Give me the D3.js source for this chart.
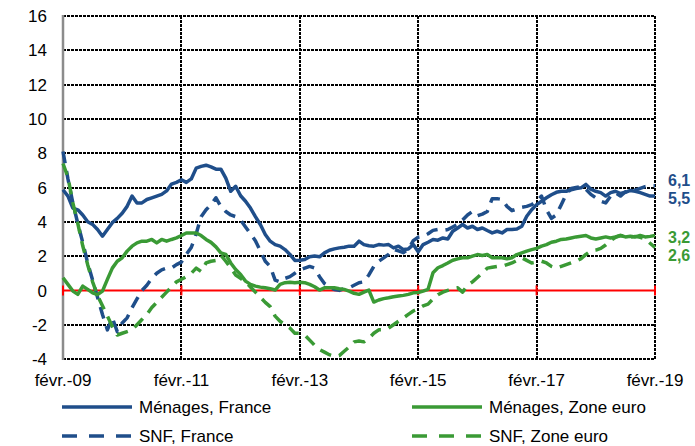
<!DOCTYPE html>
<html>
  <head>
    <meta charset="utf-8">
    <script src="https://d3js.org/d3.v7.min.js"></script>
    <style>
      body { margin: 0; background: #fff; }
      text { font-family: "Liberation Sans", Arial, sans-serif; fill: #000; }
      .grid { stroke: #000; stroke-width: 2; stroke-dasharray: 3,1; shape-rendering: crispEdges; }
    </style>
  </head>
  <body>
    <svg class="chart" width="695" height="446"></svg>
  </body>
  <script>
    // one value per month, févr. 2009 -> févr. 2019
    var xLabels = ["févr.-09", "févr.-11", "févr.-13", "févr.-15", "févr.-17", "févr.-19"];
    var yTicks = [-4, -2, 0, 2, 4, 6, 8, 10, 12, 14, 16];

    var menagesFrance = [
      5.87, 5.5, 4.8, 4.7, 4.4, 4.0, 3.85, 3.55, 3.16, 3.55, 3.95, 4.2, 4.5, 4.9, 5.5, 5.1, 5.1, 5.3, 5.4, 5.5, 5.6, 5.8, 6.2, 6.3, 6.45,
      6.3, 6.5, 7.13, 7.23, 7.3, 7.2, 7.07, 7.07, 6.55, 5.78, 6.07, 5.52, 5.2, 4.8, 4.3, 3.84, 3.26, 2.87, 2.67, 2.58, 2.38, 2.1, 1.75, 1.76,
      1.8, 1.96, 2.0, 1.96, 2.19, 2.34, 2.42, 2.48, 2.52, 2.58, 2.58, 2.87, 2.67, 2.6, 2.58, 2.67, 2.64, 2.67, 2.48, 2.58, 2.38, 2.42, 2.67, 2.25,
      2.67, 2.81, 2.97, 2.93, 3.06, 3.0, 3.45, 3.64, 3.84, 3.64, 3.74, 3.55, 3.64, 3.49, 3.35, 3.45, 3.35, 3.55, 3.55, 3.58, 3.74, 4.32, 4.7, 5.0,
      5.2, 5.4, 5.58, 5.72, 5.78, 5.78, 5.87, 5.94, 5.98, 6.18, 5.9, 5.78, 5.7, 5.5, 5.7, 5.78, 5.65, 5.72, 5.83, 5.78, 5.7, 5.6, 5.5, 5.5
    ];
    var snfFrance = [
      8.1, 6.5, 5.1, 3.9, 2.8, 1.6, 0.6, -0.4, -1.4, -2.3, -1.6, -2.4, -1.9, -1.6, -1.0, -0.5, 0.0, 0.3, 0.7, 1.0, 1.2, 1.3, 1.3, 1.5, 1.65,
      2.1, 2.5, 3.3, 4.3, 4.7, 5.0, 5.4, 4.9, 4.6, 4.4, 4.3, 4.1, 3.7, 3.3, 2.9, 2.3, 1.7, 1.4, 0.6, 0.5, 0.7, 0.8, 1.0, 1.2,
      1.3, 1.4, 1.3, 0.8, 0.4, 0.2, 0.05, 0.0, 0.1, 0.15, 0.3, 0.45, 0.5, 0.9, 1.4, 1.7, 1.9, 2.1, 2.4, 2.3, 2.2, 2.4, 2.9, 3.1,
      3.15, 3.3, 3.5, 3.55, 3.5, 3.55, 3.7, 3.85, 4.1, 4.4, 4.6, 4.35, 4.45, 4.6, 5.35, 5.35, 5.3, 4.9, 4.65, 4.75, 4.85, 4.9, 5.0, 5.2,
      5.5, 4.7, 4.2, 4.4, 5.0, 5.6, 5.95, 6.0, 6.05, 5.9, 5.6, 5.4, 5.2, 5.1, 5.5, 5.7, 5.5, 5.75, 5.8, 5.85, 5.95, 6.05, 6.1, 6.1
    ];
    var menagesZE = [
      0.74, 0.35, -0.04, -0.23, 0.25, 0.06, -0.14, -0.25, -0.04, 0.64, 1.3, 1.7, 1.9, 2.29, 2.58, 2.77, 2.87, 2.87, 2.97, 2.77, 2.97, 2.87, 2.97, 3.06, 3.2,
      3.35, 3.35, 3.35, 3.2, 2.97, 2.8, 2.54, 2.19, 2.1, 1.6, 1.22, 0.93, 0.54, 0.35, 0.25, 0.19, 0.15, 0.1, 0.02, 0.35, 0.45, 0.48, 0.45, 0.47,
      0.45, 0.35, 0.21, 0.02, 0.15, 0.15, 0.15, 0.1, 0.06, -0.04, -0.17, -0.23, -0.1, 0.02, -0.68, -0.56, -0.48, -0.43, -0.37, -0.33, -0.29, -0.23, -0.14, -0.12,
      -0.04, 0.06, 1.03, 1.32, 1.45, 1.6, 1.76, 1.84, 1.9, 1.9, 2.0, 2.09, 2.03, 2.09, 1.9, 1.9, 1.9, 1.84, 1.9, 2.09, 2.19, 2.29, 2.38, 2.45,
      2.58, 2.67, 2.81, 2.87, 2.97, 3.0, 3.06, 3.12, 3.16, 3.2, 3.06, 3.0, 3.06, 3.12, 3.06, 3.12, 3.2, 3.12, 3.16, 3.12, 3.2, 3.12, 3.15, 3.2
    ];
    var snfZE = [
      7.4, 6.6, 5.1, 3.9, 2.6, 1.5, 0.5, -0.3, -0.9, -1.5, -2.1, -2.6, -2.5, -2.4, -2.3, -2.0, -1.7, -1.4, -1.0, -0.7, -0.4, -0.1, 0.2, 0.5, 0.65,
      0.8, 1.0, 1.3, 1.1, 1.6, 1.7, 1.75, 2.05, 1.7, 1.3, 0.9, 0.7, 0.5, 0.2, -0.1, -0.4, -0.7, -0.95, -1.5, -1.8, -2.0, -2.2, -2.5, -2.5,
      -2.6, -2.9, -3.2, -3.45, -3.6, -3.75, -3.85, -3.8, -3.55, -3.3, -3.0, -2.95, -3.0, -2.8, -2.5, -2.3, -2.3, -2.2, -2.0, -1.8, -1.6, -1.4, -1.2, -1.07,
      -0.9, -0.8, -0.5, -0.25, -0.1, 0.0, 0.1, 0.15, -0.1, 0.3, 0.5, 0.75, 1.0, 1.3, 1.35, 1.4, 1.4, 1.5, 1.6, 1.75, 1.9, 1.75, 1.6, 1.65,
      1.7, 1.6, 1.4, 1.3, 1.4, 1.5, 1.6, 1.7, 1.85, 2.1, 2.3, 2.35, 2.45, 2.65, 2.9, 3.1, 3.2, 3.15, 3.1, 3.15, 3.1, 3.0, 2.75, 2.5
    ];
    var endLabels = ["6,1", "5,5", "3,2", "2,6"];

    var blue = "#1f4e8a", green = "#3a9a35";

    var series = [
      {name: "Ménages, France", values: menagesFrance, color: blue, dash: null},
      {name: "Ménages, Zone euro", values: menagesZE, color: green, dash: null},
      {name: "SNF, France", values: snfFrance, color: blue, dash: "12,8"},
      {name: "SNF, Zone euro", values: snfZE, color: green, dash: "12,8"}
    ];

    var svg = d3.select(".chart");

    var x = d3.scaleLinear().domain([0, 120]).range([63, 655]);
    var y = d3.scaleLinear().domain([-4, 16]).range([359, 16]);

    // horizontal grid
    svg.append("g").selectAll("line")
      .data(yTicks.filter(function(d) { return d != 0 }))
      .enter().append("line")
      .attr("class", "grid")
      .attr("x1", x(0)).attr("x2", x(120))
      .attr("y1", function(d) { return y(d) }).attr("y2", function(d) { return y(d) });

    // vertical grid every 24 months
    svg.append("g").selectAll("line")
      .data(d3.range(1, 6))
      .enter().append("line")
      .attr("class", "grid")
      .attr("x1", function(d) { return x(d * 24) }).attr("x2", function(d) { return x(d * 24) })
      .attr("y1", y(16)).attr("y2", y(-4));

    // left axis
    svg.append("line")
      .attr("x1", x(0)).attr("x2", x(0))
      .attr("y1", y(16) - 1).attr("y2", y(-4) + 1)
      .attr("stroke", "#8c8c8c").attr("stroke-width", 2.5);

    // zero line with its ticks
    svg.append("line")
      .attr("x1", x(0)).attr("x2", x(120))
      .attr("y1", y(0)).attr("y2", y(0))
      .attr("stroke", "#ff0000").attr("stroke-width", 2);
    svg.append("g").selectAll("line")
      .data(d3.range(0, 6))
      .enter().append("line")
      .attr("x1", function(d) { return x(d * 24) }).attr("x2", function(d) { return x(d * 24) })
      .attr("y1", y(0) - 5).attr("y2", y(0) + 5)
      .attr("stroke", "#ff0000").attr("stroke-width", 2);

    // y labels
    svg.append("g").selectAll("text")
      .data(yTicks)
      .enter().append("text")
      .attr("x", 47)
      .attr("y", function(d) { return y(d) })
      .attr("dy", "0.36em")
      .attr("text-anchor", "end")
      .style("font-size", "17px")
      .text(function(d) { return d });

    // x labels
    svg.append("g").selectAll("text")
      .data(xLabels)
      .enter().append("text")
      .attr("x", function(d, i) { return x(i * 24) })
      .attr("y", 386)
      .attr("text-anchor", "middle")
      .style("font-size", "17px")
      .text(function(d) { return d });

    var line = d3.line()
      .x(function(d, i) { return x(i) })
      .y(function(d) { return y(d) });

    [series[0], series[2], series[1], series[3]].forEach(function(s) {
      svg.append("path")
        .datum(s.values)
        .attr("d", line)
        .attr("fill", "none")
        .attr("stroke", s.color)
        .attr("stroke-width", 3.5)
        .attr("stroke-linejoin", "round")
        .attr("stroke-dasharray", s.dash);
    });

    // values at the end
    var endY = [195, 213, 252, 270];
    var endColor = [blue, blue, green, green];
    svg.append("g").selectAll("text")
      .data(endLabels)
      .enter().append("text")
      .attr("x", 668)
      .attr("y", function(d, i) { return endY[i] - 9 })
      .style("fill", function(d, i) { return endColor[i] })
      .style("font-size", "16px")
      .style("font-weight", "bold")
      .text(function(d) { return d });

    // legend
    var legend = svg.append("g").selectAll("g")
      .data(series)
      .enter().append("g")
      .attr("transform", function(d, i) { return "translate(" + (i % 2 == 0 ? 62 : 412) + "," + (i < 2 ? 407 : 436) + ")" });
    legend.append("line")
      .attr("x1", 0).attr("x2", 70)
      .attr("stroke", function(d) { return d.color })
      .attr("stroke-width", 3.5)
      .attr("stroke-dasharray", function(d) { return d.dash ? "15,12" : null });
    legend.append("text")
      .attr("x", 77)
      .attr("dy", "0.36em")
      .style("font-size", "17px")
      .text(function(d) { return d.name });
  </script>
</html>
